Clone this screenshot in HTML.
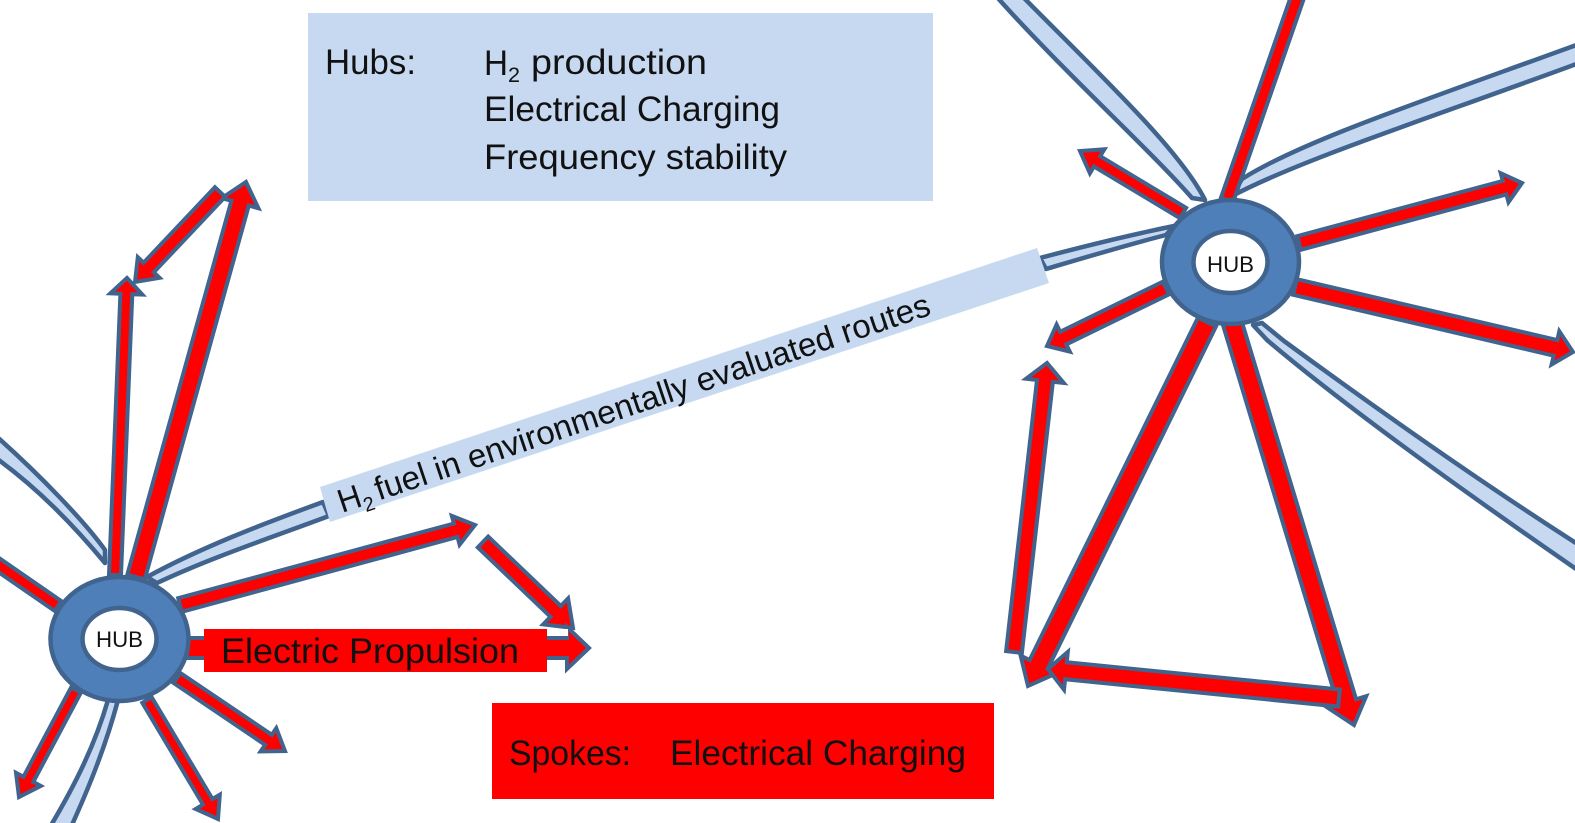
<!DOCTYPE html>
<html><head><meta charset="utf-8"><style>
html,body{margin:0;padding:0;background:#fff}
svg{display:block}
text{font-family:"Liberation Sans",sans-serif;fill:#111}
</style></head><body>
<svg id="s" xmlns="http://www.w3.org/2000/svg" width="1575" height="823" viewBox="0 0 1575 823">
<rect width="1575" height="823" fill="#fff"/>
<g fill="#c6d9f1" stroke="#41648f" stroke-width="4.5" stroke-linejoin="round">
<path d="M996,-4 C1060,68 1150,150 1192,198 L1205,200 C1180,150 1100,75 1022,-4 Z"/>
<path d="M1242,179 C1300,142 1420,102 1579,44 L1579,63 C1430,118 1300,160 1232,196 Z"/>
<path d="M1174,226 C1130,235 1085,246 1040,258 L1046,269 C1090,256 1130,244 1166,235 Z"/>
<path d="M1262,323 L1284,341 C1340,382 1454,465 1579,545 L1579,571 C1450,482 1340,402 1267,340 L1253,325 Z"/>
<path d="M-4,436 C40,475 85,522 105,550 L105,563 C75,527 40,490 -4,458 Z"/>
<path d="M147,577 C200,548 260,525 323,502 L329,516 C270,538 210,558 157,583 Z"/>
<path d="M108,700 C95,745 75,785 50,827 L71,827 C90,785 106,745 118,700 Z"/>
</g>
<g id="arrows" fill="#ff0000" stroke="#41648f" stroke-width="4" stroke-linejoin="miter" stroke-miterlimit="8"></g>
<rect x="547" y="629" width="21" height="7" fill="#fff"/>
<rect x="204" y="629" width="343" height="43" fill="#ff0000"/>
<rect x="308" y="13" width="625" height="188" fill="#c6d9f1"/>
<rect x="492" y="703" width="502" height="96" fill="#ff0000"/>
<polygon points="320,487 1037,248 1049,283 330,522" fill="#c6d9f1"/>
<g stroke="#41648f" stroke-width="4.5">
<ellipse cx="119.5" cy="639" rx="69" ry="62" fill="#4f7fb9"/>
<ellipse cx="119.5" cy="639" rx="37" ry="31" fill="#fff"/>
<ellipse cx="1230.5" cy="262" rx="68.5" ry="62" fill="#4f7fb9"/>
<ellipse cx="1230.5" cy="262" rx="37" ry="31" fill="#fff"/>
</g>
<text x="96" y="647" font-size="22" textLength="47" lengthAdjust="spacingAndGlyphs">HUB</text>
<text x="1207" y="272" font-size="22" textLength="47" lengthAdjust="spacingAndGlyphs">HUB</text>
<g font-size="35">
<text x="325" y="74" textLength="91" lengthAdjust="spacingAndGlyphs">Hubs:</text>
<text x="484" y="75" textLength="24" lengthAdjust="spacingAndGlyphs">H</text>
<text x="508" y="82" font-size="21" textLength="12" lengthAdjust="spacingAndGlyphs">2</text>
<text x="531" y="74" textLength="176" lengthAdjust="spacingAndGlyphs">production</text>
<text x="484" y="121" textLength="296" lengthAdjust="spacingAndGlyphs">Electrical Charging</text>
<text x="484" y="169" textLength="303" lengthAdjust="spacingAndGlyphs">Frequency stability</text>
<text x="221" y="663" textLength="298" lengthAdjust="spacingAndGlyphs">Electric Propulsion</text>
<text x="509" y="765" textLength="122" lengthAdjust="spacingAndGlyphs">Spokes:</text>
<text x="670" y="765" textLength="296" lengthAdjust="spacingAndGlyphs">Electrical Charging</text>
</g>
<g transform="translate(342,513) rotate(-18.6)" font-size="33">
<text x="0" y="0" textLength="23" lengthAdjust="spacingAndGlyphs">H</text>
<text x="23" y="7" font-size="20" textLength="11" lengthAdjust="spacingAndGlyphs">2</text>
<text x="39" y="0" textLength="584" lengthAdjust="spacingAndGlyphs">fuel in environmentally evaluated routes</text>
</g>
</svg>
<script>
var A=[
[180,605,475,525,14,30,20],
[483,542,573,628,15,36,24],
[187,648,589,648,20,42,22],
[177,678,285,751,12,28,20],
[147,700,218,819,11,28,20],
[76,690,19,797,11,28,20],
[-10,559,58,606,12,0,0],
[115,575,127,278,12,32,16],
[136,577,246,182,18,38,22],
[220,192,135,282,14,30,20],
[1183,213,1080,151,12,28,20],
[1227,200,1300,-10,13,0,0],
[1299,243,1522,183,14,30,18],
[1295,287,1573,352,16,34,18],
[1166,288,1047,346,14,30,18],
[1014,652,1047,363,16,38,18],
[1207,322,1028,686,20,40,24],
[1232,322,1354,725,19,40,24],
[1339,698,1048,669,17,38,18]
];
var g=document.getElementById('arrows'),NS='http://www.w3.org/2000/svg';
A.forEach(function(a){
 var tx=a[0],ty=a[1],hx=a[2],hy=a[3],w=a[4]/2,hw=a[5]/2,hl=a[6];
 var dx=hx-tx,dy=hy-ty,L=Math.sqrt(dx*dx+dy*dy);dx/=L;dy/=L;
 var nx=-dy,ny=dx,bx=hx-dx*hl,by=hy-dy*hl,pts;
 function p(x,y,o){return (x+nx*o).toFixed(1)+','+(y+ny*o).toFixed(1)}
 if(hw>0){pts=[p(tx,ty,w),p(bx,by,w),p(bx,by,hw),p(hx,hy,0),p(bx,by,-hw),p(bx,by,-w),p(tx,ty,-w)];}
 else{pts=[p(tx,ty,w),p(hx,hy,w),p(hx,hy,-w),p(tx,ty,-w)];}
 var e=document.createElementNS(NS,'polygon');e.setAttribute('points',pts.join(' '));g.appendChild(e);
});
</script>
</body></html>
